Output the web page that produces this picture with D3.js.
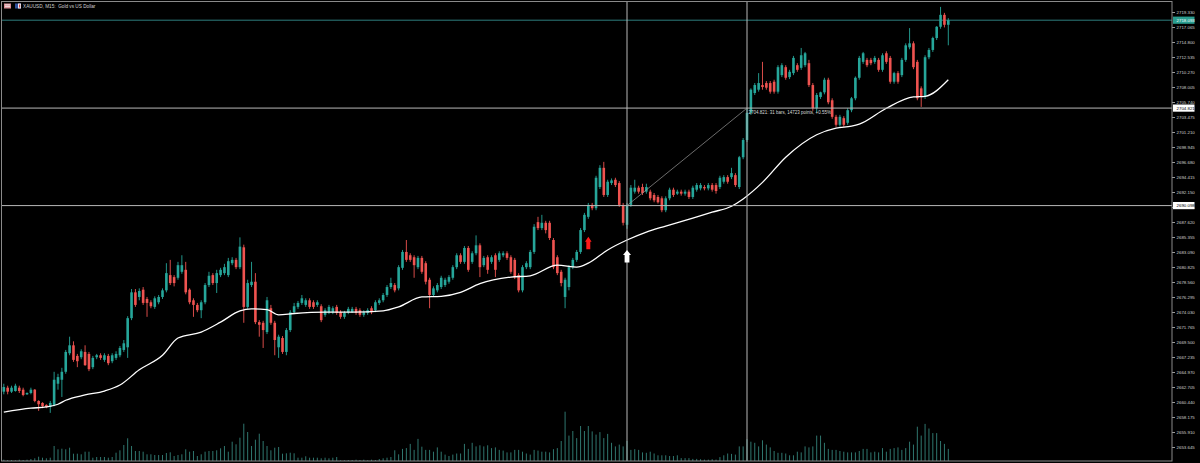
<!DOCTYPE html>
<html>
<head>
<meta charset="utf-8">
<script src="https://cdn.jsdelivr.net/npm/d3@7"></script>
<style>
  html, body { margin: 0; padding: 0; background: #000; }
  svg { display: block; font-family: "Liberation Sans", Arial, sans-serif; }
</style>
</head>
<body>
<svg id="chart" width="1200" height="463"></svg>
<script>
// XAUUSD M15 bars, each row is [open, high, low, close]
const candles = [
  [2662.0,2663.2,2661.6,2662.7],[2662.6,2662.9,2661.6,2662.0],[2662.0,2662.9,2661.8,2662.6],[2662.1,2663.2,2662.0,2662.9],
  [2662.6,2662.9,2661.8,2662.1],[2662.3,2662.6,2661.3,2661.5],[2661.6,2661.9,2661.5,2661.8],[2661.8,2662.6,2661.6,2662.3],
  [2662.3,2662.4,2660.4,2660.6],[2660.6,2660.7,2659.1,2660.1],[2660.3,2660.4,2659.5,2659.8],[2660.0,2660.1,2659.5,2659.7],
  [2659.7,2660.6,2658.8,2660.3],[2660.0,2665.0,2659.8,2663.8],
  [2663.2,2664.7,2662.3,2664.2],[2663.8,2665.6,2661.2,2665.0],[2665.0,2668.3,2664.7,2668.0],[2667.8,2670.3,2667.5,2669.0],
  [2669.0,2669.6,2666.5,2666.8],[2667.4,2667.7,2665.7,2666.6],[2667.2,2668.4,2666.9,2668.1],[2668.0,2669.0,2665.9,2666.0],
  [2667.7,2668.0,2665.1,2665.4],[2665.7,2667.4,2665.4,2667.1],[2667.2,2667.7,2666.9,2667.5],[2667.5,2667.8,2666.8,2667.1],
  [2666.8,2667.8,2666.5,2667.5],[2667.4,2667.7,2666.0,2666.3],[2666.6,2667.8,2666.3,2667.5],[2667.1,2668.1,2666.8,2667.7],
  [2667.5,2668.9,2667.2,2668.6],[2668.3,2669.8,2668.0,2669.3],[2668.7,2673.4,2667.1,2673.1],[2673.1,2677.5,2672.8,2677.0],
  [2677.0,2677.5,2674.8,2675.1],[2676.3,2677.6,2675.8,2677.2],[2677.4,2677.8,2675.1,2675.4],[2676.0,2676.3,2673.3,2675.4],
  [2675.5,2675.8,2674.6,2674.9],[2674.8,2676.4,2674.5,2676.1],[2675.5,2676.6,2675.2,2676.3],[2676.3,2677.6,2676.0,2677.3],
  [2677.3,2681.4,2677.0,2679.9],[2679.6,2681.9,2678.1,2678.4],[2679.3,2679.6,2677.9,2678.4],[2679.2,2681.6,2678.9,2681.1],
  [2680.1,2682.6,2679.8,2681.1],[2680.4,2681.6,2676.7,2677.0],[2677.4,2677.6,2675.2,2675.5],[2675.8,2676.1,2673.3,2675.1],
  [2675.1,2675.4,2674.0,2674.3],[2674.3,2675.8,2673.1,2675.5],[2675.5,2678.4,2675.2,2678.1],[2678.1,2680.1,2677.8,2679.5],
  [2679.6,2679.9,2678.1,2678.4],[2678.4,2680.4,2676.9,2679.9],[2679.6,2680.7,2679.3,2680.4],[2679.9,2681.3,2679.6,2680.8],
  [2679.6,2682.2,2679.3,2681.7],[2681.4,2682.3,2681.1,2681.9],[2681.9,2682.2,2680.5,2680.8],[2680.8,2685.3,2680.5,2683.9],
  [2683.8,2684.2,2672.4,2674.8],
  [2674.8,2678.9,2674.5,2678.4],[2678.1,2681.6,2677.8,2678.6],[2678.6,2679.9,2672.2,2672.5],[2672.5,2672.8,2670.3,2672.1],
  [2672.4,2672.7,2668.6,2671.3],[2671.0,2676.3,2670.7,2675.8],[2674.6,2675.1,2672.1,2672.4],[2672.4,2672.7,2667.5,2669.8],
  [2668.7,2670.6,2667.1,2670.3],[2670.1,2670.4,2667.7,2668.0],[2668.0,2671.6,2667.5,2671.3],[2671.3,2674.3,2671.0,2674.0],
  [2674.0,2675.4,2673.7,2674.9],[2674.8,2675.7,2674.5,2675.4],[2675.4,2676.6,2675.1,2676.1],[2675.1,2676.1,2674.8,2675.8],
  [2675.8,2676.1,2674.5,2674.8],[2675.5,2675.8,2674.5,2674.8],[2675.1,2675.8,2674.8,2675.5],[2674.9,2675.2,2672.5,2672.8],
  [2673.6,2674.6,2673.3,2674.3],[2674.0,2675.1,2673.7,2674.8],[2674.0,2674.9,2673.7,2674.6],[2674.8,2675.1,2673.6,2673.9],
  [2674.0,2674.3,2673.0,2673.3],[2673.3,2674.2,2673.0,2673.9],[2674.0,2674.8,2673.7,2674.5],[2674.0,2674.8,2673.9,2674.5],
  [2674.5,2674.8,2673.6,2673.9],[2674.3,2674.6,2673.3,2673.6],[2673.6,2674.3,2673.3,2674.0],[2673.9,2674.6,2673.6,2674.3],
  [2674.6,2674.9,2673.7,2674.0],[2674.3,2675.8,2674.0,2675.5],[2675.4,2676.1,2675.1,2675.8],[2675.8,2676.9,2675.5,2676.6],
  [2676.6,2678.1,2676.3,2677.8],[2677.8,2679.2,2677.5,2678.4],[2678.1,2678.4,2677.0,2677.3],[2677.6,2681.1,2677.3,2680.8],
  [2680.7,2683.4,2680.4,2683.1],[2683.1,2684.9,2681.6,2681.9],[2682.6,2682.9,2681.6,2681.9],[2682.3,2682.6,2679.2,2681.1],
  [2680.8,2682.5,2680.5,2682.2],[2682.2,2682.5,2679.8,2680.1],[2681.4,2681.7,2678.2,2678.6],[2678.9,2679.2,2674.6,2676.6],
  [2676.6,2677.9,2676.3,2677.6],[2677.3,2678.4,2677.0,2678.1],[2677.8,2679.5,2677.5,2679.2],[2678.1,2679.2,2677.8,2678.9],
  [2678.6,2679.6,2678.3,2679.3],[2679.2,2681.1,2678.9,2680.8],[2680.8,2682.9,2680.5,2682.6],[2682.6,2682.9,2681.3,2681.6],
  [2681.6,2684.0,2681.3,2683.7],[2683.7,2684.0,2680.1,2680.4],[2681.6,2683.2,2681.3,2682.9],[2682.9,2685.6,2682.6,2684.1],
  [2684.1,2684.4,2679.3,2680.8],[2681.1,2682.5,2680.8,2682.2],[2682.3,2682.6,2679.8,2680.4],[2681.6,2682.6,2681.3,2682.3],
  [2682.6,2682.9,2679.3,2680.4],[2681.9,2683.2,2681.6,2682.9],[2682.6,2683.2,2682.3,2682.9],[2682.9,2683.2,2681.9,2682.2],
  [2682.3,2682.6,2679.8,2680.1],[2681.9,2682.2,2679.0,2679.3],[2679.6,2679.9,2677.0,2677.3],[2677.3,2681.1,2677.0,2680.8],
  [2680.8,2681.7,2680.5,2681.4],[2680.8,2683.4,2680.5,2683.1],[2683.1,2687.3,2682.8,2686.9],[2687.6,2688.4,2686.4,2686.7],
  [2686.7,2688.7,2686.4,2687.5],[2687.5,2687.8,2685.9,2686.4],[2687.5,2687.8,2684.9,2685.2],[2684.9,2685.2,2680.5,2680.8],
  [2682.3,2682.6,2679.6,2679.9],[2680.1,2680.4,2677.9,2678.4],[2676.3,2679.2,2674.6,2678.9],[2677.8,2681.1,2677.3,2680.8],
  [2680.8,2682.2,2680.5,2681.9],[2681.9,2683.4,2681.6,2683.1],[2683.1,2686.7,2682.8,2686.4],[2686.4,2689.0,2686.1,2688.7],
  [2688.4,2690.5,2688.1,2690.2],[2690.2,2690.5,2689.4,2689.7],[2689.7,2694.6,2689.4,2694.3],[2692.9,2696.2,2692.6,2695.8],
  [2695.8,2696.7,2691.4,2691.7],[2691.7,2694.0,2691.4,2693.7],[2693.5,2694.2,2693.2,2693.9],[2694.0,2694.3,2692.9,2693.2],
  [2693.5,2693.8,2689.9,2690.2],[2690.2,2690.5,2687.1,2687.5],[2687.2,2690.5,2686.6,2690.1],
  [2690.2,2693.2,2689.9,2692.8],[2692.2,2694.0,2691.9,2692.8],[2692.8,2693.1,2691.9,2692.2],[2692.9,2693.4,2691.7,2692.0],
  [2692.2,2693.4,2691.9,2692.9],[2692.2,2692.5,2690.9,2691.2],[2691.7,2692.0,2690.6,2690.9],[2691.4,2691.7,2690.4,2690.6],
  [2691.2,2691.5,2689.1,2689.4],[2689.4,2691.5,2689.1,2691.2],[2691.2,2692.8,2690.9,2692.5],[2692.5,2692.8,2691.4,2691.7],
  [2691.9,2692.5,2691.7,2692.2],[2692.2,2692.5,2691.6,2691.9],[2691.9,2692.5,2691.6,2692.2],[2692.2,2692.5,2691.1,2691.4],
  [2691.4,2693.1,2691.1,2692.8],[2692.5,2693.5,2692.2,2693.2],[2692.7,2693.5,2692.4,2693.2],[2692.9,2693.2,2692.4,2692.7],
  [2692.7,2693.5,2692.4,2693.2],[2693.2,2693.5,2692.2,2692.5],[2693.2,2693.5,2691.9,2692.3],
  [2692.9,2694.6,2692.6,2694.3],[2693.7,2694.7,2693.4,2694.4],[2694.4,2694.7,2693.4,2693.7],[2694.4,2695.8,2694.1,2695.0],
  [2694.7,2695.0,2692.9,2693.2],[2692.9,2697.6,2692.6,2697.4],[2697.4,2700.3,2697.1,2700.0],[2700.0,2704.8,2699.7,2704.1],
  [2704.1,2707.8,2703.8,2707.6],[2707.1,2708.6,2706.8,2708.3],[2707.6,2710.1,2707.3,2708.6],[2708.3,2711.8,2707.6,2708.0],
  [2708.6,2708.9,2707.6,2707.9],[2708.6,2708.9,2707.0,2707.3],[2708.8,2709.1,2707.0,2707.3],[2707.3,2711.3,2707.0,2711.0],
  [2709.8,2711.6,2709.5,2711.3],[2711.0,2711.3,2709.1,2709.4],[2709.5,2710.6,2709.2,2710.3],[2710.1,2712.7,2709.8,2712.4],
  [2711.3,2711.6,2710.3,2710.6],[2710.9,2713.9,2710.6,2712.8],[2711.3,2713.3,2711.0,2713.1],[2711.6,2712.1,2708.0,2708.3],
  [2708.3,2708.6,2704.4,2704.8],[2704.8,2707.1,2704.2,2706.8],[2706.5,2707.3,2706.2,2707.2],[2707.2,2709.4,2706.9,2709.1],
  [2709.1,2709.4,2705.4,2705.7],[2706.0,2706.3,2703.2,2703.5],[2703.5,2703.8,2702.0,2702.3],[2702.3,2703.8,2702.0,2703.5],
  [2703.3,2703.6,2702.0,2702.3],[2702.6,2704.8,2702.3,2704.5],[2704.5,2706.5,2704.2,2706.3],[2706.3,2709.6,2706.0,2709.4],
  [2709.4,2712.7,2709.1,2712.4],[2711.8,2713.3,2711.5,2713.1],[2712.1,2712.4,2711.0,2711.3],[2712.1,2712.4,2711.3,2711.6],
  [2711.8,2712.7,2711.5,2712.4],[2712.1,2712.4,2710.3,2710.6],[2710.6,2713.1,2710.3,2712.8],[2713.1,2713.4,2711.5,2711.8],
  [2712.4,2712.7,2708.5,2708.8],[2708.8,2710.3,2708.5,2710.1],[2710.1,2710.4,2708.5,2708.8],[2709.8,2712.4,2709.5,2712.1],
  [2712.1,2714.6,2711.8,2714.3],[2714.0,2716.9,2713.7,2714.6],[2714.6,2714.9,2710.7,2711.0],[2711.8,2712.1,2706.0,2706.3],
  [2707.8,2708.1,2705.0,2706.5],[2706.5,2712.8,2706.2,2712.5],[2712.5,2713.9,2712.2,2713.6],[2713.6,2715.6,2713.3,2715.4],
  [2715.4,2717.2,2715.1,2717.1],[2717.1,2720.1,2716.8,2718.9],[2718.9,2719.2,2717.0,2717.4],[2717.4,2718.4,2714.3,2718.093]
];

// tick volume per bar
const volumes = [
  130,100,100,70,130,100,130,200,270,430,330,270,330,
  1500,1170,1230,1170,1330,730,730,670,930,930,330,400,400,400,330,400,830,1070,1600,2270,
  1500,1000,1000,930,670,670,600,600,600,800,870,500,600,670,1170,930,1000,500,670,930,
  1000,1000,1070,1270,1500,930,1930,1670,2330,3730,
  2900,1500,2130,2730,2000,1500,1070,1330,1400,730,770,830,770,330,330,470,330,330,330,270,
  330,270,330,400,70,70,100,100,130,100,130,70,130,100,200,270,330,400,1070,670,
  1210,1290,1710,1110,2210,1430,1110,1110,930,1360,930,640,500,640,750,750,1710,1210,1820,1460,
  1570,1460,1570,1290,1360,1110,1040,860,860,1110,1110,930,750,640,1110,1040,
  930,930,860,1180,1290,2000,4930,2540,3000,2290,3500,3000,3500,2960,2640,2890,2290,2710,1820,1460,
  1640,1460,2000,1110,1180,1110,860,820,930,750,570,570,570,500,500,570,290,290,290,210,210,180,140,140,180,
  140,390,570,750,710,640,1460,1460,2180,1930,1820,1460,2070,1640,1360,1000,820,820,750,570,570,930,860,
  1460,1360,1460,2540,2540,1820,1210,1110,1110,1000,930,860,
  860,860,1000,1210,1210,860,930,860,1290,930,1210,
  1290,1360,1110,1290,1930,1640,3430,2540,3710,3250,2790,2790,2000,1710,1210
];

// moving average, read as [bar, price]
const maPoints = [
  [0,2658.9],[7,2659.5],[11,2659.7],[14,2660.1],[16,2660.7],[21,2661.5],[26,2662.1],[30,2663.0],
  [35,2665.3],[41,2667.5],[45,2670.1],[51,2671.0],[56,2672.5],[61,2674.2],[64,2674.5],[68,2674.4],
  [71,2673.6],[75,2673.8],[83,2674.0],[90,2674.0],[98,2674.2],[102,2674.8],[108,2676.3],[113,2676.4],
  [118,2677.0],[123,2678.3],[131,2679.3],[136,2679.5],[143,2681.1],[148,2680.8],[151,2681.4],[156,2683.4],
  [161,2684.9],[166,2686.1],[171,2687.0],[178,2688.2],[183,2689.1],[188,2690.0],[191,2691.1],[196,2693.6],
  [202,2697.4],[210,2700.8],[215,2701.8],[219,2702.1],[221,2702.4],[228,2704.8],[235,2706.5],[238,2706.6],
  [244,2709.1]
];

const priceTicks = [
  2719.330,2717.065,2714.800,2712.535,2710.270,2708.005,2705.740,2703.475,2701.210,2698.945,
  2696.680,2694.415,2692.150,2689.885,2687.620,2685.355,2683.090,2680.825,2678.560,2676.295,
  2674.030,2671.765,2669.500,2667.235,2664.970,2662.705,2660.440,2658.175,2655.910,2653.645
];

const bidPrice = 2718.093;
const measureBars = [161, 192];
const measurePrices = [2690.098, 2704.821];
const arrowBars = [151, 161];
const arrowPrices = [2685.4, 2683.4];
const title = "XAUUSD, M15:  Gold vs US Dollar";

const bull = "#26a69a", bear = "#ef5350";
const plot = {left: 2, top: 2, right: 1172, bottom: 461};

const svg = d3.select("#chart");
svg.append("rect").attr("width", 1200).attr("height", 463).attr("fill", "#000");

// scales
const x = d3.scaleLinear().domain([0, candles.length - 1]).range([3.8, 948.3]);
const y = d3.scaleLinear().domain([2653.645, 2719.33]).range([447, 12]);
const yVol = d3.scaleLinear().domain([0, 5000]).range([plot.bottom, plot.bottom - 50]);

// bid line
svg.append("line")
  .attr("x1", plot.left).attr("x2", plot.right)
  .attr("y1", y(bidPrice)).attr("y2", y(bidPrice))
  .attr("stroke", "#2e7d7d").attr("stroke-width", 1);

// volumes
svg.append("g").selectAll("line")
  .data(volumes)
  .enter().append("line")
  .attr("x1", (d, i) => x(i)).attr("x2", (d, i) => x(i))
  .attr("y1", yVol(0)).attr("y2", d => yVol(d))
  .attr("stroke", "#2f766e").attr("stroke-width", 1);

// candles
const cg = svg.append("g").selectAll("g")
  .data(candles)
  .enter().append("g");
cg.append("line")
  .attr("x1", (d, i) => x(i)).attr("x2", (d, i) => x(i))
  .attr("y1", d => y(d[1])).attr("y2", d => y(d[2]))
  .attr("stroke", d => d[3] >= d[0] ? bull : bear).attr("stroke-width", 0.9);
cg.append("rect")
  .attr("x", (d, i) => x(i) - 1.3)
  .attr("width", 2.6)
  .attr("y", d => y(Math.max(d[0], d[3])))
  .attr("height", d => Math.max(1, Math.abs(y(d[0]) - y(d[3]))))
  .attr("fill", d => d[3] >= d[0] ? bull : bear);

// moving average
svg.append("path")
  .datum(maPoints)
  .attr("fill", "none")
  .attr("stroke", "#fff")
  .attr("stroke-width", 1.3)
  .attr("d", d3.line().x(d => x(d[0])).y(d => y(d[1])).curve(d3.curveMonotoneX));

// measuring crosshair lines
measureBars.forEach(b => {
  svg.append("line")
    .attr("x1", x(b)).attr("x2", x(b))
    .attr("y1", plot.top).attr("y2", plot.bottom)
    .attr("stroke", "#b8b8b8").attr("stroke-width", 1);
});
measurePrices.forEach(p => {
  svg.append("line")
    .attr("x1", plot.left).attr("x2", plot.right)
    .attr("y1", y(p)).attr("y2", y(p))
    .attr("stroke", "#b8b8b8").attr("stroke-width", 1);
});
svg.append("line")
  .attr("x1", x(measureBars[0])).attr("y1", y(measurePrices[0]))
  .attr("x2", x(measureBars[1])).attr("y2", y(measurePrices[1]))
  .attr("stroke", "#9a9a9a").attr("stroke-width", 0.7);

const nBars = measureBars[1] - measureBars[0];
const pts = Math.round((measurePrices[1] - measurePrices[0]) * 1000);
const pct = (measurePrices[1] - measurePrices[0]) / measurePrices[0] * 100;
svg.append("text")
  .attr("x", x(measureBars[1]) + 1.5)
  .attr("y", y(measurePrices[1]) + 5.5)
  .attr("font-size", 4.5)
  .attr("fill", "#d8d8d8")
  .text(measurePrices[1].toFixed(3) + ": " + nBars + " bars, " + pts + " points, +" + pct.toFixed(2) + "%");

// up arrows
const arrowColors = ["#ff1a1a", "#ffffff"];
const arrowHalf = [3.3, 4];
arrowBars.forEach((b, k) => {
  const cx = x(b), top = y(arrowPrices[k]), hw = arrowHalf[k], sw = hw * 0.6;
  svg.append("path")
    .attr("d", `M${cx},${top} L${cx + hw},${top + 5} L${cx + sw},${top + 5} L${cx + sw},${top + 12.5}
      L${cx - sw},${top + 12.5} L${cx - sw},${top + 5} L${cx - hw},${top + 5} Z`)
    .attr("fill", arrowColors[k]);
});

// price axis
const axis = svg.append("g")
  .attr("transform", `translate(${plot.right},0)`)
  .call(d3.axisRight(y).tickValues(priceTicks).tickFormat(d3.format(".3f")).tickSize(3).tickPadding(1.5));
axis.select(".domain").remove();
axis.selectAll(".tick line").attr("stroke", "#9a9a9a");
axis.selectAll(".tick text").attr("fill", "#cfcfcf").attr("font-size", 4.4)
  .attr("font-family", "Liberation Sans, Arial, sans-serif");

// frame
svg.append("rect")
  .attr("x", plot.left - 0.5).attr("y", plot.top - 0.5)
  .attr("width", plot.right - plot.left + 0.5).attr("height", plot.bottom - plot.top + 0.5)
  .attr("fill", "none").attr("stroke", "#8a8a8a").attr("stroke-width", 1);

// price labels on the axis
const labelPrices = [bidPrice, measurePrices[1], measurePrices[0]];
const labelFill = ["#2a9d8f", "#ffffff", "#ffffff"];
const labelText = ["#ffffff", "#000000", "#000000"];
labelPrices.forEach((p, k) => {
  svg.append("rect")
    .attr("x", plot.right + 1).attr("y", y(p) - 3.6)
    .attr("width", 21.5).attr("height", 7.2)
    .attr("fill", labelFill[k]);
  svg.append("text")
    .attr("x", plot.right + 4.5).attr("y", y(p) + 1.5)
    .attr("font-size", 4.4).attr("fill", labelText[k])
    .text(p.toFixed(3));
});

// title with the two little icons
svg.append("rect").attr("x", 4).attr("y", 3.5).attr("width", 7).attr("height", 5).attr("fill", "#d98c94");
svg.append("rect").attr("x", 5).attr("y", 4.5).attr("width", 5).attr("height", 0.8).attr("fill", "#f4f0f0");
svg.append("rect").attr("x", 5).attr("y", 6.3).attr("width", 5).attr("height", 0.8).attr("fill", "#f4f0f0");
svg.append("rect").attr("x", 15).attr("y", 3.5).attr("width", 6).attr("height", 5).attr("fill", "#2f4f9a");
svg.append("rect").attr("x", 18).attr("y", 3.5).attr("width", 3).attr("height", 5).attr("fill", "#e8e8f0");
svg.append("rect").attr("x", 19).attr("y", 4.5).attr("width", 1.2).attr("height", 3).attr("fill", "#d04040");
svg.append("text")
  .attr("x", 23).attr("y", 8)
  .attr("font-size", 4.7)
  .attr("fill", "#d0d0d0")
  .attr("xml:space", "preserve")
  .text(title);
</script>
</body>
</html>
